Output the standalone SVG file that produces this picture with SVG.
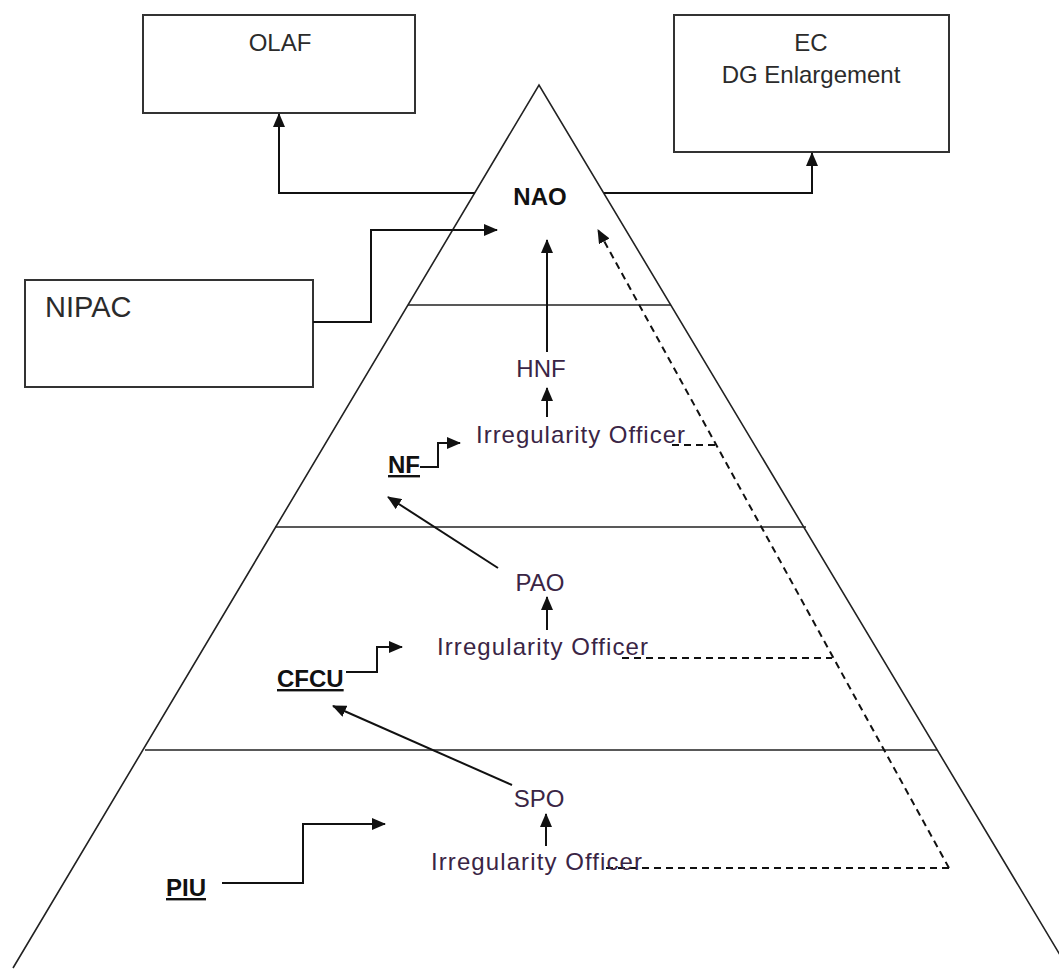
<svg xmlns="http://www.w3.org/2000/svg" width="1059" height="970" viewBox="0 0 1059 970">
<style>
text{font-family:"Liberation Sans",Arial,sans-serif;font-size:24px;fill:#2b2b2b}
.io{fill:#3a2545}
.b{font-weight:bold;fill:#111}
.u{text-decoration:underline}
.box{fill:#fff;stroke:#333;stroke-width:2}
.pyr{fill:none;stroke:#222;stroke-width:1.6}
.c{fill:none;stroke:#111;stroke-width:2}
.d{fill:none;stroke:#111;stroke-width:2;stroke-dasharray:7 5}
</style>
<defs>
<marker id="arr" markerWidth="14" markerHeight="12" refX="13" refY="6" orient="auto" markerUnits="userSpaceOnUse">
<path d="M0,0 L14,6 L0,12 z" fill="#111"/>
</marker>
</defs>
<rect width="1059" height="970" fill="#fff"/>
<g id="pyramid">
<polyline class="pyr" points="13,968 539,85 1069,970"/>
<line class="pyr" x1="408" y1="305" x2="671" y2="305"/>
<line class="pyr" x1="275" y1="527" x2="806" y2="527"/>
<line class="pyr" x1="145" y1="750" x2="937" y2="750"/>
</g>
<g id="olaf"><rect class="box" x="143" y="15" width="272" height="98"/><text x="280" y="51" text-anchor="middle">OLAF</text></g>
<g id="ec"><rect class="box" x="674" y="15" width="275" height="137"/><text x="811" y="51" text-anchor="middle">EC</text><text x="811" y="83" text-anchor="middle">DG Enlargement</text></g>
<g id="nipac"><rect class="box" x="25" y="280" width="288" height="107"/><text x="45" y="317" style="font-size:29px">NIPAC</text></g>
<g id="connectors">
<path class="c" d="M475,193 H279 V114" marker-end="url(#arr)"/>
<path class="c" d="M604,193 H812 V153" marker-end="url(#arr)"/>
<path class="c" d="M313,322 H371 V230 H497" marker-end="url(#arr)"/>
<path class="c" d="M547,352 V240" marker-end="url(#arr)"/>
<path class="c" d="M547,417 V388" marker-end="url(#arr)"/>
<path class="c" d="M420,467 H438 V443 H460" marker-end="url(#arr)"/>
<path class="c" d="M498,568 L388,497" marker-end="url(#arr)"/>
<path class="c" d="M547,630 V597" marker-end="url(#arr)"/>
<path class="c" d="M346,672 H377 V647 H402" marker-end="url(#arr)"/>
<path class="c" d="M512,785 L333,706" marker-end="url(#arr)"/>
<path class="c" d="M546,846 V814" marker-end="url(#arr)"/>
<path class="c" d="M222,883 H303 V824 H385" marker-end="url(#arr)"/>
<path class="d" d="M949,868 L598,230" marker-end="url(#arr)"/>
<path class="d" d="M672,445 H716"/>
<path class="d" d="M622,658 H832"/>
<path class="d" d="M606,868 H949"/>
</g>
<g id="nao"><text class="b" x="540" y="205" text-anchor="middle">NAO</text></g>
<g id="hnf"><text class="io" x="541" y="377" text-anchor="middle">HNF</text></g>
<g id="io1"><text class="io" x="476" y="443" textLength="209" lengthAdjust="spacing">Irregularity Officer</text></g>
<g id="nf"><text class="b u" x="388" y="473">NF</text></g>
<g id="pao"><text class="io" x="540" y="591" text-anchor="middle">PAO</text></g>
<g id="io2"><text class="io" x="437" y="655" textLength="211" lengthAdjust="spacing">Irregularity Officer</text></g>
<g id="cfcu"><text class="b u" x="277" y="687">CFCU</text></g>
<g id="spo"><text class="io" x="539" y="807" text-anchor="middle">SPO</text></g>
<g id="io3"><text class="io" x="431" y="870" textLength="211" lengthAdjust="spacing">Irregularity Officer</text></g>
<g id="piu"><text class="b u" x="166" y="896">PIU</text></g>
</svg>
